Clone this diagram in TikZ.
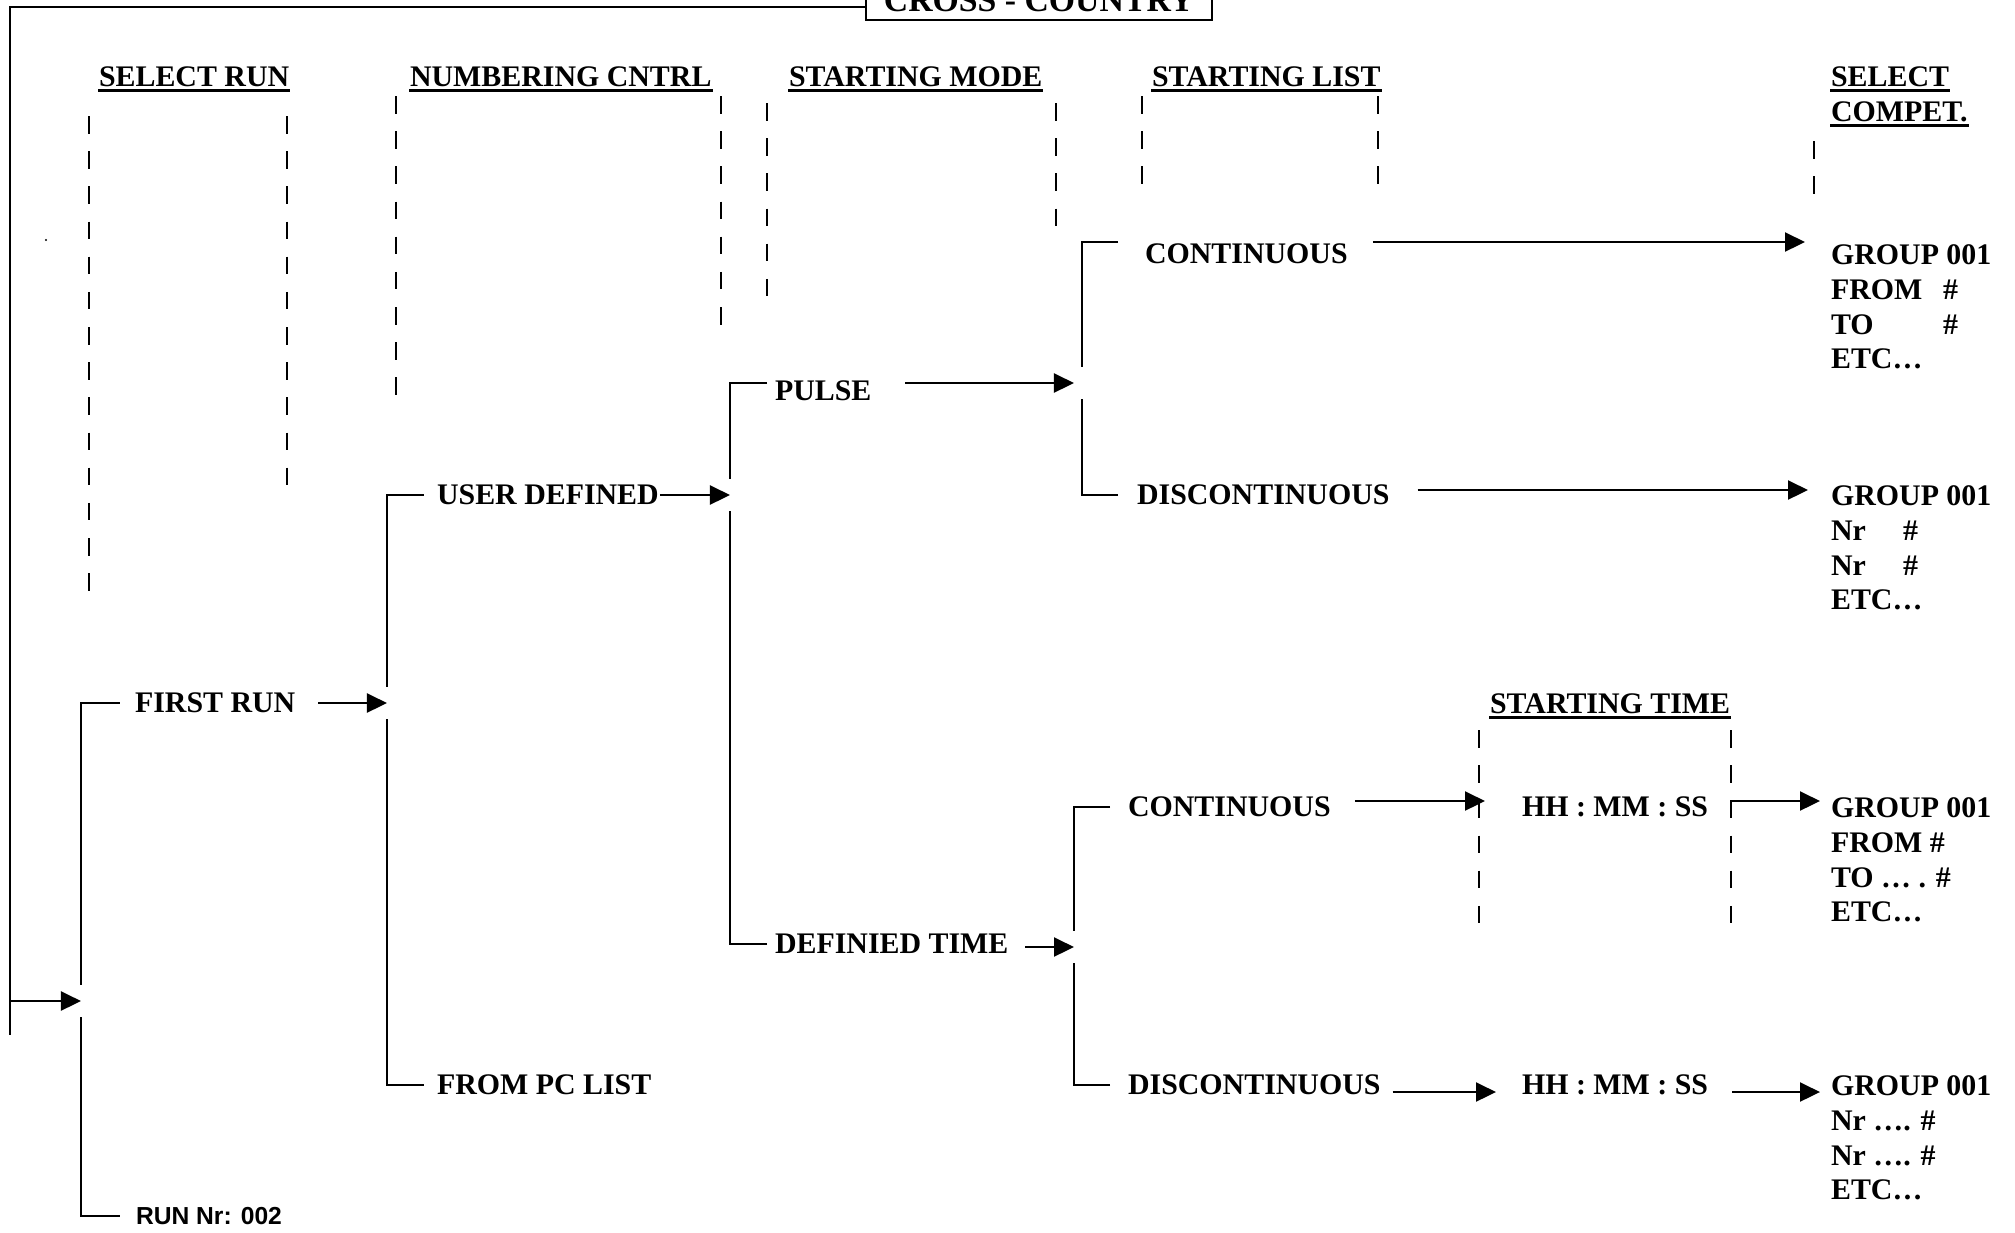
\documentclass[tikz,border=0pt]{standalone}
\usepackage{fontspec}
\setmainfont{Liberation Serif}
\newfontfamily\runfont{Liberation Sans}
\usetikzlibrary{arrows.meta}

\tikzset{
   lbl/.style={anchor=west, inner sep=0pt, font=\bfseries\fontsize{8.5}{9.85}\selectfont},
   head/.style={anchor=base west, inner sep=0pt, font=\bfseries\fontsize{8.5}{9.85}\selectfont},
   grp/.style={anchor=north west, inner sep=0pt, align=left, font=\bfseries\fontsize{8.5}{9.85}\selectfont},
   arr/.style={-{Triangle[length=0.2cm, width=0.19cm]}},
   guide/.style={dash pattern=on 5pt off 5pt}
}

\begin{document}
\begin{tikzpicture}[x=0.01cm, y=-0.01cm, line width=0.6pt]
   \useasboundingbox (0,0) rectangle (2015,1232);
   % title box, cut by the top edge
   \node[draw, anchor=south, inner xsep=0.18cm, inner ysep=0.08cm,
         font=\bfseries\fontsize{9.6}{11}\selectfont] (cc) at (1039,21) {CROSS - COUNTRY};
   \coordinate (tl) at (10,7);
   \coordinate (bl) at (10,1035);
   \path[draw] (tl -| cc.west) -- (tl) -- (bl);
   \fill (46,240) circle (0.012cm);

   % column headers
   \def \Heads {
      hsr/98/86/SELECT RUN,
      hnc/409/86/NUMBERING CNTRL,
      hsm/788/86/STARTING MODE,
      hsl/1151/86/STARTING LIST,
      hs1/1830/86/SELECT,
      hs2/1830/121/COMPET.,
      hst/1489/713/STARTING TIME}
   \foreach \u / \x / \y / \n in \Heads {
      \node[head] (\u) at (\x, \y) {\n};
      \path[draw, line width=0.8pt] ([yshift=-0.045cm]\u.base west) -- ([yshift=-0.045cm]\u.base east);
   }

   % dashed guides
   \def \Guides {
      89/116/600,
      287/116/492,
      396/96/402,
      721/96/332,
      767/103/298,
      1056/103/229,
      1142/96/190,
      1378/96/190,
      1814/141/197,
      1479/730/928,
      1731/730/928}
   \foreach \x / \ya / \yb in \Guides {
      \path[draw, guide] (\x, \ya) -- (\x, \yb);
   }

   % labels
   \def \Labels {
      fr/134/703/FIRST RUN,
      ud/436/495/USER DEFINED,
      pc/436/1085/FROM PC LIST,
      pu/774/391/PULSE,
      dt/774/944/DEFINIED TIME,
      c1/1144/254/CONTINUOUS,
      d1/1136/495/DISCONTINUOUS,
      c2/1127/807/CONTINUOUS,
      d2/1127/1085/DISCONTINUOUS,
      t1/1521/807/HH : MM : SS,
      t2/1521/1085/HH : MM : SS}
   \foreach \u / \x / \y / \n in \Labels {
      \node[lbl] (\u) at (\x, \y) {\n};
   }
   \node[lbl, font=\runfont\bfseries\fontsize{7}{8}\selectfont] (rn) at (135,1216) {RUN Nr: 002};

   \node[grp] (g1) at (1830,244) {GROUP 001\\\makebox[1.12cm][l]{FROM}\#\\\makebox[1.12cm][l]{TO}\#\\ETC…};
   \node[grp] (g2) at (1830,485) {GROUP 001\\\makebox[0.72cm][l]{Nr}\#\\\makebox[0.72cm][l]{Nr}\#\\ETC…};
   \node[grp] (g3) at (1830,797) {GROUP 001\\FROM \#\\TO … . \#\\ETC…};
   \node[grp] (g4) at (1830,1075) {GROUP 001\\Nr …. \#\\Nr …. \#\\ETC…};

   % brackets
   \coordinate (j1) at (81,1001);
   \coordinate (j2) at (387,703);
   \coordinate (j3) at (730,495);
   \coordinate (j4) at (1082,383);
   \coordinate (j5) at (1074,947);
   \coordinate (e1) at (1805,242);
   \coordinate (e2) at (1808,490);
   \coordinate (e3) at (1485,801);
   \coordinate (e4) at (1820,801);
   \coordinate (e5) at (1496,1092);
   \coordinate (e6) at (1820,1092);

   \path[draw] ([xshift=-0.14cm]fr.west) -| ([yshift=0.16cm]j1);
   \path[draw] ([xshift=-0.15cm]rn.west) -| ([yshift=-0.16cm]j1);
   \path[draw] ([xshift=-0.12cm]ud.west) -| ([yshift=0.16cm]j2);
   \path[draw] ([xshift=-0.12cm]pc.west) -| ([yshift=-0.16cm]j2);
   \path[draw] ([xshift=-0.07cm]pu.west |- j4) -| ([yshift=0.16cm]j3);
   \path[draw] ([xshift=-0.07cm]dt.west) -| ([yshift=-0.16cm]j3);
   \path[draw] ([xshift=-0.26cm]c1.west |- e1) -| ([yshift=0.16cm]j4);
   \path[draw] ([xshift=-0.18cm]d1.west) -| ([yshift=-0.16cm]j4);
   \path[draw] ([xshift=-0.17cm]c2.west) -| ([yshift=0.16cm]j5);
   \path[draw] ([xshift=-0.17cm]d2.west) -| ([yshift=-0.16cm]j5);

   % arrows
   \draw[arr] (bl |- j1) -- (j1);
   \draw[arr] ([xshift=0.22cm]fr.east) -- (j2);
   \draw[arr] (ud.east) -- (j3);
   \draw[arr, shorten >=0.08cm] ([xshift=0.33cm]pu.east |- j4) -- (j4);
   \draw[arr] ([xshift=0.16cm]dt.east |- j5) -- (j5);
   \draw[arr] ([xshift=0.24cm]c1.east |- e1) -- (e1);
   \draw[arr] ([xshift=0.27cm]d1.east |- e2) -- (e2);
   \draw[arr] ([xshift=0.23cm]c2.east |- e3) -- (e3);
   \draw[arr] ([xshift=0.23cm]t1.east |- e4) -- (e4);
   \draw[arr] ([xshift=0.11cm]d2.east |- e5) -- (e5);
   \draw[arr] ([xshift=0.23cm]t2.east |- e6) -- (e6);
\end{tikzpicture}
\end{document}
